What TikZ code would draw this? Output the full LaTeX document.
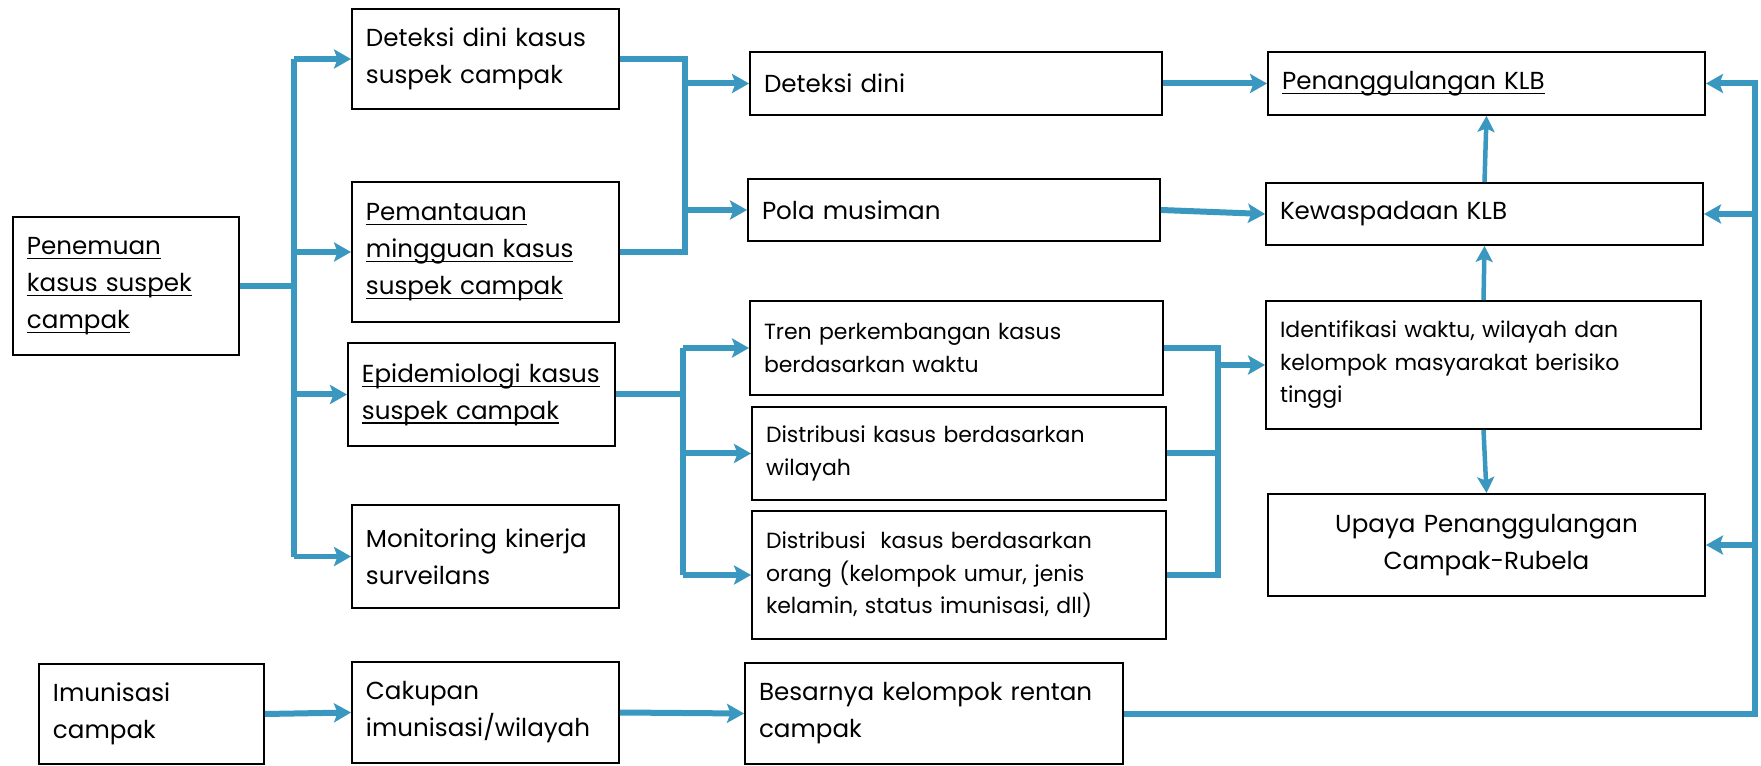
\documentclass[tikz,border=0pt]{standalone}
\usepackage{fontspec}
\setmainfont{Poppins}
\usetikzlibrary{arrows.meta}
\definecolor{flowblue}{HTML}{3A97C0}
\newcommand\undl[1]{\leavevmode\setbox0\hbox{#1}\rlap{\rule[-2.6pt]{\wd0}{0.7pt}}\box0}
\newcommand\flowbox[7][]{%
  \pgfmathsetmacro\bw{(#5-#3)*0.02}%
  \pgfmathsetmacro\bh{(#6-#4)*0.02}%
  \pgfmathsetmacro\tw{(#5-#3)*0.02-0.56}%
  \node[box,minimum width=\bw cm,minimum height=\bh cm,text width=\tw cm,#1] (#2) at ({(#3+#5)/2},{(#4+#6)/2}) {#7};}
\tikzset{
  box/.style={draw=black,line width=1.1pt,fill=white,inner xsep=0.28cm,inner ysep=0pt,align=left,
    font=\fontsize{14}{21}\selectfont},
  smalltext/.style={font=\fontsize{12.5}{18.5}\selectfont},
  line/.style={draw=flowblue,line width=0.12cm},
  arr/.style={line,-{Stealth[length=0.34cm,width=0.38cm,inset=0.07cm]}},
  thinarr/.style={draw=flowblue,line width=0.09cm,-{Stealth[length=0.32cm,width=0.34cm,inset=0.07cm]}}
}
\begin{document}
\begin{tikzpicture}[x=0.02cm,y=-0.02cm]
\useasboundingbox[fill=white] (0,0) rectangle (1761,766);
% left column
\flowbox{pen}{13}{217}{239}{355}{\undl{Penemuan}\\\undl{kasus suspek}\\\undl{campak}}
\flowbox{dk}{352}{9}{619}{109}{Deteksi dini kasus\\suspek campak}
\flowbox{pm}{352}{182}{619}{322}{\undl{Pemantauan}\\\undl{mingguan kasus}\\\undl{suspek campak}}
\flowbox{ep}{348}{343}{615}{446}{\undl{Epidemiologi kasus}\\\undl{suspek campak}}
\flowbox{mo}{352}{505}{619}{608}{Monitoring kinerja\\surveilans}
\flowbox{im}{39}{664}{264}{764}{Imunisasi\\campak}
\flowbox{ck}{352}{662}{619}{763}{Cakupan\\imunisasi/wilayah}
% middle column
\flowbox{dd}{750}{52}{1162}{115}{Deteksi dini}
\flowbox{pol}{748}{179}{1160}{241}{Pola musiman}
\flowbox[smalltext]{tr}{750}{301}{1163}{395}{Tren perkembangan kasus\\berdasarkan waktu}
\flowbox[smalltext]{dw}{752}{407}{1166}{500}{Distribusi kasus berdasarkan\\wilayah}
\flowbox[smalltext]{do}{752}{511}{1166}{639}{Distribusi\ \ kasus berdasarkan\\orang (kelompok umur, jenis\\kelamin, status imunisasi, dll)}
\flowbox{bs}{745}{663}{1123}{764}{Besarnya kelompok rentan\\campak}
% right column
\flowbox{pk}{1268}{52}{1705}{115}{\undl{Penanggulangan KLB}}
\flowbox{kw}{1266}{183}{1703}{245}{Kewaspadaan KLB}
\flowbox[smalltext]{id}{1266}{301}{1701}{429}{Identifikasi waktu, wilayah dan\\kelompok masyarakat berisiko\\tinggi}
\flowbox[align=center]{up}{1268}{494}{1705}{596}{Upaya Penanggulangan\\Campak-Rubela}
% junction coordinates
\coordinate (j1) at (294,0);
\coordinate (j2) at (685,0);
\coordinate (j3) at (683,0);
\coordinate (j4) at (1218,0);
\coordinate (j5) at (1755,0);
% spine 1
\draw[line] (pen.east) -- (j1 |- pen.east);
\draw[line] (j1 |- dk.west) -- (j1 |- mo.west);
\draw[arr] (j1 |- dk.west) -- (dk.west);
\draw[arr] (j1 |- pm.west) -- (pm.west);
\draw[arr] (j1 |- ep.west) -- (ep.west);
\draw[arr] (j1 |- mo.west) -- (mo.west);
% spine 2
\draw[line] (dk.east) -| (j2 |- pm.east) -- (pm.east);
\draw[arr] (j2 |- dd.west) -- (dd.west);
\draw[arr] (j2 |- pol.west) -- (pol.west);
% spine 3
\draw[line] (ep.east) -- (j3 |- ep.east);
\draw[line] (j3 |- tr.west) -- (j3 |- do.west);
\draw[arr] (j3 |- tr.west) -- (tr.west);
\draw[arr] (j3 |- dw.west) -- (dw.west);
\draw[arr] (j3 |- do.west) -- (do.west);
% spine 4
\draw[line] (tr.east) -| (j4 |- do.east) -- (do.east);
\draw[line] (dw.east) -- (j4 |- dw.east);
\draw[arr] (j4 |- id.west) -- (id.west);
% right return line
\draw[arr] (bs.east) -| (j5 |- pk.east) -- (pk.east);
\draw[arr] (j5 |- kw.east) -- (kw.east);
\draw[arr] (j5 |- up.east) -- (up.east);
% direct arrows
\draw[arr] (dd.east) -- (pk.west);
\draw[arr] (pol.east) -- (kw.west);
\draw[thinarr] (kw.north) -- (pk.south);
\draw[thinarr] (id.north) -- (kw.south);
\draw[thinarr] (id.south) -- (up.north);
\draw[arr] (im.east) -- (ck.west);
\draw[arr] (ck.east) -- (bs.west);
\end{tikzpicture}
\end{document}
